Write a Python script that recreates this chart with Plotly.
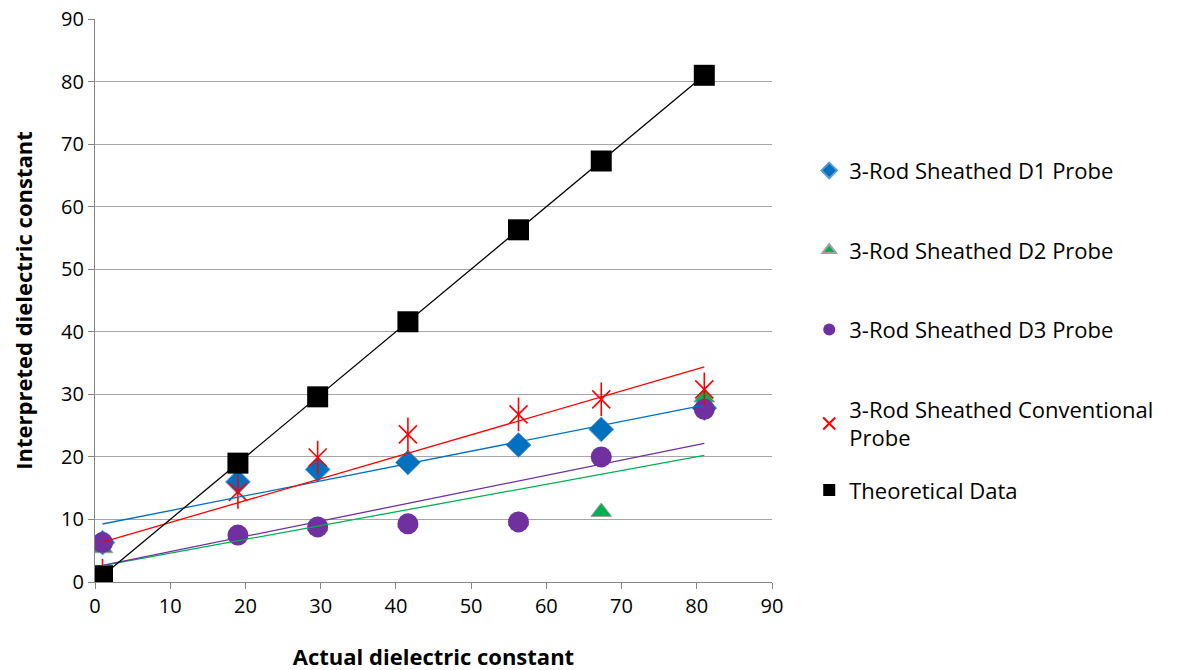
import numpy as np
import plotly.graph_objects as go

actual = [1, 19, 29.6, 41.6, 56.3, 67.3, 81]
d1 = [6.3, 16.0, 18.0, 19.1, 21.9, 24.4, 27.8]
d2 = [5.4, 7.6, 9.0, 9.5, 9.8, 11.2, 29.5]
d3 = [6.3, 7.5, 8.8, 9.3, 9.6, 20.0, 27.6]
conv = [1.0, 14.4, 19.9, 23.6, 26.8, 29.2, 30.8]
theo = [1, 19, 29.6, 41.6, 56.3, 67.3, 81]

names = ["3-Rod Sheathed D1 Probe", "3-Rod Sheathed D2 Probe", "3-Rod Sheathed D3 Probe",
         "3-Rod Sheathed Conventional<br>Probe", "Theoretical Data"]
colors = ["#0070C0", "#00B050", "#7030A0", "#FF0000", "#000000"]
series = [d1, d2, d3, conv, theo]

FONT = "Open Sans"
fig = go.Figure()

marker_styles = [
    dict(symbol="diamond", size=19, color="#0070C0", line=dict(color="#5B9BD5", width=1)),
    dict(symbol="triangle-up", size=18, color="#00B050", line=dict(color="#A0A0A0", width=1)),
    dict(symbol="circle", size=21, color="#7030A0", line=dict(color="#7030A0", width=0)),
    dict(symbol="x-thin-open", size=18, color="#FF0000", line=dict(color="#FF0000", width=1.6)),
    dict(symbol="square", size=21, color="#000000", line=dict(color="#000000", width=0)),
]

for i, (nm, ys, ms) in enumerate(zip(names, series, marker_styles)):
    fig.add_trace(go.Scatter(x=actual, y=ys, mode="markers", name=nm, marker=ms,
                             legendgroup=f"g{i}",
                             legend="legend2" if i == 4 else "legend"))
    if i == 3:
        fig.add_trace(go.Scatter(x=actual, y=ys, mode="markers", showlegend=False,
                                 legendgroup=f"g{i}",
                                 marker=dict(symbol="line-ns-open", size=24, color="#FF0000",
                                             line=dict(color="#FF0000", width=1.6))))

xa = np.array(actual)
xs_line = np.array([actual[0], actual[-1]])
for i, (ys, c) in enumerate(zip(series, colors)):
    m, b = np.polyfit(xa, np.array(ys), 1)
    fig.add_trace(go.Scatter(x=xs_line, y=m * xs_line + b, mode="lines", showlegend=False,
                             line=dict(color=c, width=1.3), hoverinfo="skip"))

fig.update_layout(
    width=1180, height=670,
    margin=dict(l=87, r=416, t=11, b=96),
    paper_bgcolor="white", plot_bgcolor="white",
    font=dict(family=FONT, size=20, color="#000000"),
    showlegend=True,
    legend=dict(x=1.055, y=0.768, xanchor="left", yanchor="top",
                font=dict(family=FONT, size=22), tracegroupgap=48,
                itemsizing="constant", bgcolor="rgba(0,0,0,0)"),
    legend2=dict(x=1.055, y=0.163, xanchor="left", yanchor="middle",
                 font=dict(family=FONT, size=22),
                 itemsizing="constant", bgcolor="rgba(0,0,0,0)"),
    xaxis=dict(range=[0, 90], dtick=10, tick0=0, showgrid=False, zeroline=False,
               showline=True, linecolor="#868686", linewidth=1.3, automargin=False,
               ticks="outside", ticklen=6, tickcolor="#868686", ticklabeloverflow="allow",
               title=dict(text="<b>Actual dielectric constant</b>", font=dict(size=22), standoff=31),
               tickfont=dict(size=20)),
    yaxis=dict(range=[0, 90], dtick=10, tick0=0, showgrid=True, gridcolor="#A6A6A6", gridwidth=1.3,
               zeroline=False, showline=True, linecolor="#868686", linewidth=1.3, automargin=False,
               ticks="outside", ticklen=6, tickcolor="#868686", ticklabeloverflow="allow",
               title=dict(text="<b>Interpreted dielectric constant</b>", font=dict(size=22), standoff=29),
               tickfont=dict(size=20)),
)

fig.write_html("out.html")
